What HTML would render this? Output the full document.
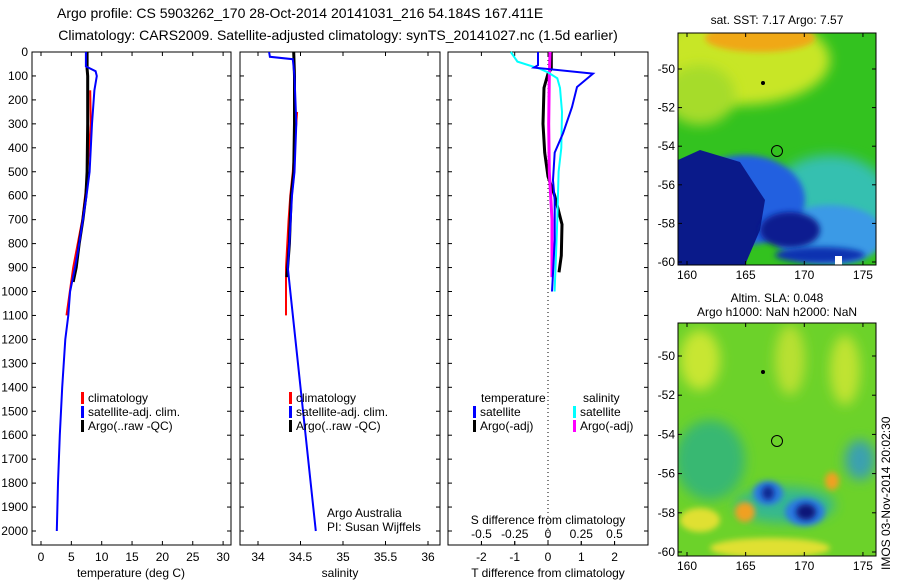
<!DOCTYPE html>
<html><head><meta charset="utf-8"><style>
body{margin:0;background:#fff;}
svg{display:block;font-family:"Liberation Sans",sans-serif;}
</style></head><body>
<svg id="c" width="900" height="580" viewBox="0 0 900 580">
<defs>
<filter id="bl" x="-50%" y="-50%" width="200%" height="200%"><feGaussianBlur stdDeviation="6"/></filter>
<filter id="bl2" x="-50%" y="-50%" width="200%" height="200%"><feGaussianBlur stdDeviation="3"/></filter>
<clipPath id="m1"><rect x="678" y="33" width="198" height="232"/></clipPath>
<clipPath id="m2"><rect x="678" y="323" width="198" height="233"/></clipPath>
</defs>
<text x="57" y="18" font-size="14">Argo profile: CS 5903262_170 28-Oct-2014 20141031_216 54.184S 167.411E</text>
<text x="338" y="40" font-size="14" text-anchor="middle">Climatology: CARS2009. Satellite-adjusted climatology: synTS_20141027.nc (1.5d earlier)</text>
<g id="plots"></g>

<g>
<text x="777" y="24" font-size="12" text-anchor="middle">sat. SST: 7.17 Argo: 7.57</text>
<g clip-path="url(#m1)">
<rect x="678" y="33" width="198" height="232" fill="#33c21f"/>
<ellipse cx="740" cy="60" rx="90" ry="45" fill="#c8e628" filter="url(#bl)"/>
<ellipse cx="760" cy="38" rx="55" ry="14" fill="#f0a818" filter="url(#bl2)"/>
<ellipse cx="700" cy="95" rx="35" ry="30" fill="#a6dc2a" filter="url(#bl)"/>
<ellipse cx="830" cy="200" rx="60" ry="45" fill="#36c0b0" filter="url(#bl)"/>
<ellipse cx="830" cy="235" rx="55" ry="30" fill="#3a9ae6" filter="url(#bl2)"/>
<ellipse cx="745" cy="200" rx="60" ry="45" fill="#2060e0" filter="url(#bl2)"/>
<path d="M678 160 L700 150 L740 162 L755 185 L765 200 L760 230 L745 265 L678 265 Z" fill="#0a1a8a"/>
<ellipse cx="790" cy="230" rx="30" ry="18" fill="#0c1c90" filter="url(#bl2)"/>
<ellipse cx="820" cy="255" rx="45" ry="8" fill="#1030b0" filter="url(#bl2)"/>
<rect x="835" y="256" width="7" height="9" fill="#fff"/>
</g>
<rect x="678" y="33" width="198" height="232" fill="none" stroke="#000"/>
<circle cx="777" cy="151" r="5.5" fill="none" stroke="#000"/>
<circle cx="763" cy="83" r="2" fill="#000"/>
</g>

<g>
<text x="777" y="302" font-size="12" text-anchor="middle">Altim. SLA: 0.048</text>
<text x="777" y="316" font-size="12" text-anchor="middle">Argo h1000: NaN h2000: NaN</text>
<g clip-path="url(#m2)">
<rect x="678" y="323" width="198" height="233" fill="#6cd22a"/>
<ellipse cx="700" cy="360" rx="20" ry="30" fill="#c8e630" filter="url(#bl)"/>
<ellipse cx="790" cy="360" rx="15" ry="35" fill="#b8e030" filter="url(#bl)"/>
<ellipse cx="845" cy="370" rx="15" ry="35" fill="#c0e330" filter="url(#bl)"/>
<ellipse cx="710" cy="460" rx="35" ry="40" fill="#38b872" filter="url(#bl)"/>
<ellipse cx="860" cy="460" rx="15" ry="20" fill="#3aa0b0" filter="url(#bl)"/>
<ellipse cx="785" cy="505" rx="50" ry="18" fill="#36b890" filter="url(#bl)"/>
<ellipse cx="768" cy="493" rx="15" ry="12" fill="#2a7ae0" filter="url(#bl2)"/>
<ellipse cx="768" cy="493" rx="6" ry="7" fill="#102890" filter="url(#bl2)"/>
<ellipse cx="805" cy="512" rx="20" ry="14" fill="#2a7ae0" filter="url(#bl2)"/>
<ellipse cx="806" cy="512" rx="10" ry="8" fill="#081878" filter="url(#bl2)"/>
<ellipse cx="745" cy="512" rx="10" ry="10" fill="#f0a020" filter="url(#bl2)"/>
<ellipse cx="832" cy="481" rx="7" ry="9" fill="#f0a020" filter="url(#bl2)"/>
<ellipse cx="770" cy="548" rx="60" ry="10" fill="#e0e030" filter="url(#bl2)"/>
<ellipse cx="700" cy="520" rx="20" ry="12" fill="#e0e030" filter="url(#bl2)"/>
</g>
<rect x="678" y="323" width="198" height="233" fill="none" stroke="#000"/>
<circle cx="777" cy="441" r="5.5" fill="none" stroke="#000"/>
<circle cx="763" cy="372" r="2" fill="#000"/>
<text transform="translate(890,570) rotate(-90)" font-size="12">IMOS 03-Nov-2014 20:02:30</text>
</g>
<g id="mapaxes"></g>
</svg>
<script>
const NS="http://www.w3.org/2000/svg";
const root=document.getElementById('plots');
function el(t,a,p){const e=document.createElementNS(NS,t);for(const k in a)e.setAttribute(k,a[k]);(p||root).appendChild(e);return e;}

// data
const depthTicks=[0,100,200,300,400,500,600,700,800,900,1000,1100,1200,1300,1400,1500,1600,1700,1800,1900,2000];
const tTicks=[0,5,10,15,20,25,30];
const sTicks=[34,34.5,35,35.5,36];
const dtTicks=[-2,-1,0,1,2];
const dsTicks=[-0.5,-0.25,0,0.25,0.5];
const dsTickLabels=["-0.5","-0.25","0","0.25","0.5"];

const tArgoD=[0,70,100,300,500,600,700,800,900,960];
const tArgoV=[7.6,7.6,7.7,7.7,7.6,7.4,6.9,6.3,5.8,5.3];
const tClimD=[160,300,550,700,900,1100];
const tClimV=[8.1,8.2,7.5,6.8,5.3,4.2];
const tSatD=[0,60,80,100,160,300,400,500,600,700,800,900,1000,1100,1200,1400,1600,1800,2000];
const tSatV=[7.4,7.4,9.0,9.2,8.8,8.4,8.2,8.0,7.5,6.9,6.3,5.6,4.8,4.5,4.0,3.5,3.1,2.8,2.6];

const sArgoD=[0,100,300,500,600,800,940];
const sArgoV=[34.42,34.43,34.43,34.42,34.39,34.37,34.34];
const sClimD=[250,500,600,700,900,1100];
const sClimV=[34.46,34.41,34.38,34.36,34.33,34.33];
const sSatD=[0,20,30,100,300,500,600,800,900,1000,1200,1400,1600,1800,2000];
const sSatV=[34.13,34.14,34.41,34.43,34.45,34.43,34.40,34.37,34.35,34.38,34.44,34.5,34.56,34.62,34.68];

const dTSatD=[0,55,65,90,146,230,340,420,535,620,785,925,1000];
const dTSatV=[-0.3,-0.3,-0.42,1.35,0.87,0.72,0.45,0.2,0.15,0.2,0.2,0.15,0.12];
const dTArgoD=[0,70,90,150,300,420,520,600,720,850,920];
const dTArgoV=[0.1,0.1,0,-0.12,-0.15,-0.1,0,0.2,0.42,0.4,0.33];
const dSSatD=[0,40,70,85,110,150,250,400,500,700,850,1000];
const dSSatV=[-0.28,-0.23,-0.06,0,0.07,0.09,0.105,0.1,0.08,0.07,0.06,0.05];
const dSArgoD=[0,100,300,500,700,900,940];
const dSArgoV=[0.015,0.01,0.005,0.01,0.03,0.03,0.03];

const Y0=52,YB=545;
const yD=d=>Y0+d*0.2395;
const panels=[
 {x0:32,x1:231,fx:v=>41+v*6.07},
 {x0:240,x1:440,fx:v=>258+(v-34)*85},
 {x0:448,x1:648,fx:v=>548+v*33.3}
];
const fS3=v=>548+v*133;

panels.forEach((p,i)=>{
 const r=el('rect',{x:p.x0,y:Y0,width:p.x1-p.x0,height:YB-Y0,fill:'none',stroke:'#000'});
 
 
 depthTicks.forEach(d=>{
  el('line',{x1:p.x0,x2:p.x0+4,y1:yD(d),y2:yD(d),stroke:'#000'});
  el('line',{x1:p.x1,x2:p.x1-4,y1:yD(d),y2:yD(d),stroke:'#000'});
 });
});
depthTicks.forEach(d=>{
 const t=el('text',{x:28,y:yD(d)+4,'font-size':12,'text-anchor':'end'});t.textContent=d;
 
 
});
function xticks(p,ticks,labels,fx,yl){
 ticks.forEach((v,i)=>{
  const x=fx(v);
  el('line',{x1:x,x2:x,y1:YB,y2:YB-4,stroke:'#000'});
  el('line',{x1:x,x2:x,y1:Y0,y2:Y0+4,stroke:'#000'});
  const t=el('text',{x:x,y:yl,'font-size':12,'text-anchor':'middle'});t.textContent=labels[i];
  
  
 });
}
xticks(panels[0],tTicks,tTicks,panels[0].fx,561);
xticks(panels[1],sTicks,sTicks,panels[1].fx,561);
xticks(panels[2],dtTicks,dtTicks,panels[2].fx,561);
dsTicks.forEach((v,i)=>{
 el('line',{x1:fS3(v),x2:fS3(v),y1:YB,y2:YB-4,stroke:'#000'});
 const t=el('text',{x:fS3(v),y:538,'font-size':12,'text-anchor':'middle'});t.textContent=dsTickLabels[i];
 
 
});
[[131,'temperature (deg C)','x-axis-title-temperature'],[340,'salinity','x-axis-title-salinity'],[548,'T difference from climatology','x-axis-title-t-diff']].forEach(a=>{
 const t=el('text',{x:a[0],y:577,'font-size':12,'text-anchor':'middle'});t.textContent=a[1];
 
 
});
const st=el('text',{x:548,y:524,'font-size':12,'text-anchor':'middle'});st.textContent='S difference from climatology';


const zl=el('line',{x1:548,x2:548,y1:Y0,y2:YB,stroke:'#000','stroke-dasharray':'1,3'});



function series(D,V,fx,col,w,name){
 const pts=D.map((d,i)=>fx(V[i]).toFixed(1)+','+yD(d).toFixed(1)).join(' ');
 const pl=el('polyline',{points:pts,fill:'none',stroke:col,'stroke-width':w});
 
 
}
series(tClimD,tClimV,panels[0].fx,'#f00',2,'temp-climatology-line');
series(tArgoD,tArgoV,panels[0].fx,'#000',3,'temp-argo-line');
series(tSatD,tSatV,panels[0].fx,'#00f',2,'temp-satellite-line');
series(sClimD,sClimV,panels[1].fx,'#f00',2,'sal-climatology-line');
series(sArgoD,sArgoV,panels[1].fx,'#000',3,'sal-argo-line');
series(sSatD,sSatV,panels[1].fx,'#00f',2,'sal-satellite-line');
series(dTArgoD,dTArgoV,panels[2].fx,'#000',3,'t-diff-argo-line');
series(dSArgoD,dSArgoV,fS3,'#f0f',3,'s-diff-argo-line');
series(dSSatD,dSSatV,fS3,'#0ff',2,'s-diff-satellite-line');
series(dTSatD,dTSatV,panels[2].fx,'#00f',2,'t-diff-satellite-line');

function leg(x,y,col,txt,name){
 if(col){const r=el('rect',{x:x,y:y-10,width:3,height:12,fill:col});
  
  }
 const t=el('text',{x:x+7,y:y,'font-size':12});t.textContent=txt;
 
 
}
[[0,32],[1,240]].forEach(([i,x0])=>{
 leg(x0+49,402,'#f00','climatology','legend-climatology');
 leg(x0+49,416,'#00f','satellite-adj. clim.','legend-satellite');
 leg(x0+49,430,'#000','Argo(..raw -QC)','legend-argo');
});
leg(474,402,null,'temperature','legend-temperature-header');
leg(473,416,'#00f','satellite','legend-t-satellite');
leg(473,430,'#000','Argo(-adj)','legend-t-argo');
leg(576,402,null,'salinity','legend-salinity-header');
leg(573,416,'#0ff','satellite','legend-s-satellite');
leg(573,430,'#f0f','Argo(-adj)','legend-s-argo');
const a1=el('text',{x:327,y:517,'font-size':12});a1.textContent='Argo Australia';


const a2=el('text',{x:327,y:531,'font-size':12});a2.textContent='PI: Susan Wijffels';



const ma=document.getElementById('mapaxes');
const lonTicks=[160,165,170,175];
const latTicks=[-50,-52,-54,-56,-58,-60];
const fLon=v=>687+(v-160)*11.73;
[[33,265,69,19.3],[323,556,356,19.6]].forEach(([top,bot,y50,s])=>{
 latTicks.forEach(v=>{
  const y=y50+(-50-v)*s;
  el('line',{x1:678,x2:682,y1:y,y2:y,stroke:'#000'},ma);
  el('line',{x1:876,x2:872,y1:y,y2:y,stroke:'#000'},ma);
  const t=el('text',{x:675,y:y+4,'font-size':12,'text-anchor':'end'},ma);t.textContent=v;
  
  
 });
 lonTicks.forEach(v=>{
  const x=fLon(v);
  el('line',{x1:x,x2:x,y1:bot,y2:bot-4,stroke:'#000'},ma);
  el('line',{x1:x,x2:x,y1:top,y2:top+4,stroke:'#000'},ma);
  const t=el('text',{x:x,y:bot+14,'font-size':12,'text-anchor':'middle'},ma);t.textContent=v;
  
  
 });
});
</script>
</body></html>
